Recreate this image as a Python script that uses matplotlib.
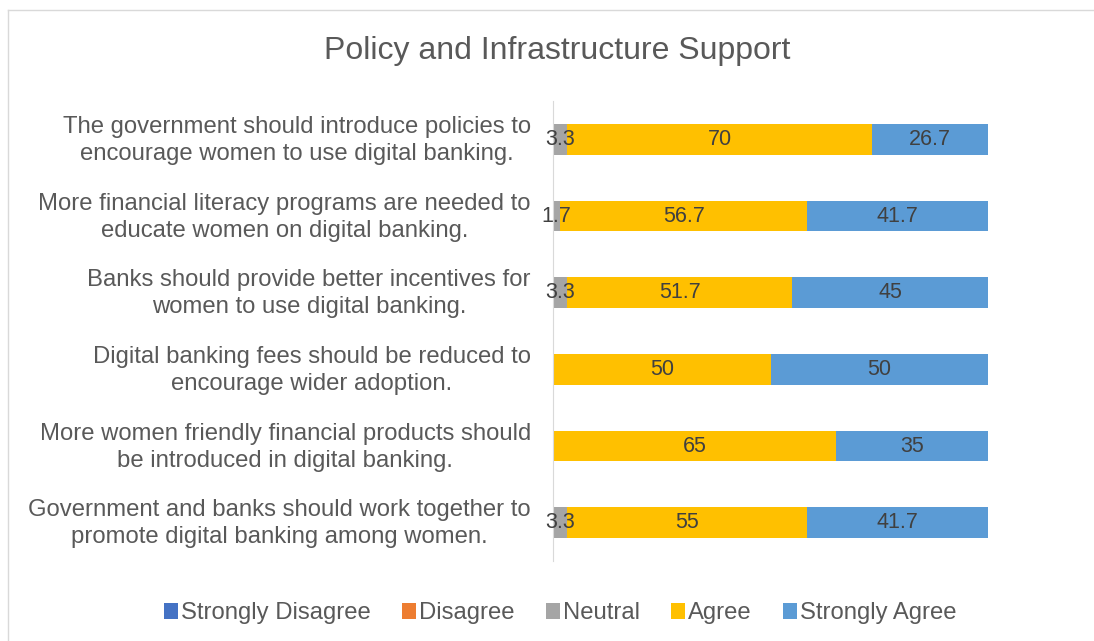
import matplotlib.pyplot as plt
import matplotlib.transforms as mtransforms
import numpy as np

plt.rcParams['font.family'] = ['Liberation Sans', 'DejaVu Sans']

statements = [
    'The government should introduce policies to\nencourage women to use digital banking.',
    'More financial literacy programs are needed to\neducate women on digital banking.',
    'Banks should provide better incentives for\nwomen to use digital banking.',
    'Digital banking fees should be reduced to\nencourage wider adoption.',
    'More women friendly financial products should\nbe introduced in digital banking.',
    'Government and banks should work together to\npromote digital banking among women.',
]
strongly_disagree = [0, 0, 0, 0, 0, 0]
disagree = [0, 0, 0, 0, 0, 0]
neutral = [3.3, 1.7, 3.3, 0, 0, 3.3]
agree = [70, 56.7, 51.7, 50, 65, 55]
strongly_agree = [26.7, 41.7, 45, 50, 35, 41.7]

series = ['Strongly Disagree', 'Disagree', 'Neutral', 'Agree', 'Strongly Agree']
colors = ['#4472C4', '#ED7D31', '#A5A5A5', '#FFC000', '#5B9BD5']
data = [strongly_disagree, disagree, neutral, agree, strongly_agree]

fig = plt.figure(figsize=(10.94, 6.41), dpi=100)
ax = fig.add_axes([0.5055, 0.1248, 0.3976, 0.7176])

y = np.arange(len(statements))[::-1]
left = np.zeros(len(statements))
for name, vals, col in zip(series, data, colors):
    vals = np.array(vals, dtype=float)
    bars = ax.barh(y, vals, left=left, height=0.4, color=col, label=name)
    for b, v in zip(bars, vals):
        if v > 0:
            ax.text(b.get_x() + b.get_width() / 2, b.get_y() + b.get_height() / 2,
                    f'{v:g}', ha='center', va='center', fontsize=15.5, color='#404040')
    left += vals

ax.set_xlim(0, 100)
ax.set_ylim(-0.5, 5.5)
ax.set_yticks(y)
ax.set_yticklabels(statements, fontsize=17.2, color='#595959', ha='right',
                   multialignment='center', linespacing=1.3)
ax.tick_params(axis='y', length=0, pad=16)
# nudge the category labels up a little
shift = mtransforms.ScaledTranslation(0, 4 / 100, fig.dpi_scale_trans)
for lab in ax.get_yticklabels():
    lab.set_transform(lab.get_transform() + shift)
ax.set_xticks([])
for s in ['top', 'right', 'bottom']:
    ax.spines[s].set_visible(False)
ax.spines['left'].set_color('#D9D9D9')

fig.text(0.509, 0.92, 'Policy and Infrastructure Support', ha='center', va='center',
         fontsize=23, color='#595959')

leg = fig.legend(loc='center', bbox_to_anchor=(0.512, 0.043), ncol=5, frameon=False,
                 fontsize=17.2, handlelength=0.6, handleheight=0.6, handletextpad=0.12,
                 columnspacing=1.3)
for t in leg.get_texts():
    t.set_color('#595959')

# chart border (left and top edges visible)
fig.add_artist(plt.Line2D([8 / 1094, 8 / 1094], [0, 1 - 10 / 641], transform=fig.transFigure,
                          color='#D9D9D9', lw=1))
fig.add_artist(plt.Line2D([8 / 1094, 1], [1 - 10 / 641, 1 - 10 / 641], transform=fig.transFigure,
                          color='#D9D9D9', lw=1))

fig.savefig('out.png', dpi=100)
